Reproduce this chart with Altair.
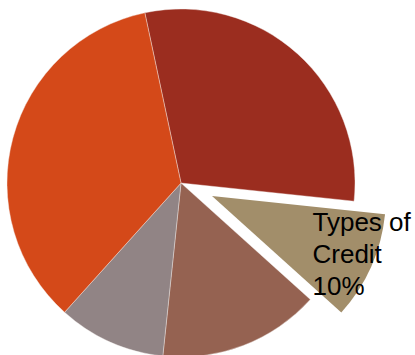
import math
import altair as alt
import pandas as pd

# Data
categories = ["Slice 1", "Types of Credit", "Slice 3", "Slice 4", "Slice 5"]
values = [30, 10, 15, 10, 35]
labels = ["", "Types of\nCredit\n10%", "", "", ""]
colors = ["#9B2D1F", "#A28E6A", "#956251", "#918485", "#D44919"]
order = [0, 1, 2, 3, 4]

df = pd.DataFrame({"cat": categories, "value": values, "label": labels, "ord": order})

start = math.radians(-12)
theta_scale = alt.Scale(range=[start, start + 2 * math.pi])

base = alt.Chart(df).encode(
    theta=alt.Theta("value:Q", stack=True, scale=theta_scale),
    order=alt.Order("ord:Q"),
    color=alt.Color("cat:N", scale=alt.Scale(domain=categories, range=colors), legend=None),
    x=alt.value(181),
    y=alt.value(183),
)

is_exploded = alt.datum.cat == "Types of Credit"

main = base.mark_arc(outerRadius=174, stroke="#f4f0ee", strokeWidth=0.4).encode(
    opacity=alt.condition(is_exploded, alt.value(0), alt.value(1))
)

exploded = base.mark_arc(outerRadius=174, xOffset=31, yOffset=13).encode(
    opacity=alt.condition(is_exploded, alt.value(1), alt.value(0))
)

text = base.mark_text(
    radius=110,
    xOffset=31,
    yOffset=3,
    align="left",
    baseline="alphabetic",
    font="Liberation Sans",
    fontSize=26,
    lineHeight=32,
    lineBreak="\n",
    color="black",
).encode(text="label:N", color=alt.value("black"))

chart = (
    alt.layer(main, exploded, text)
    .properties(width=415, height=355, autosize=alt.AutoSizeParams(type="none"), padding=0)
    .configure_view(stroke=None)
)

chart.save("out.html", embed_options={"renderer": "svg", "actions": False})
